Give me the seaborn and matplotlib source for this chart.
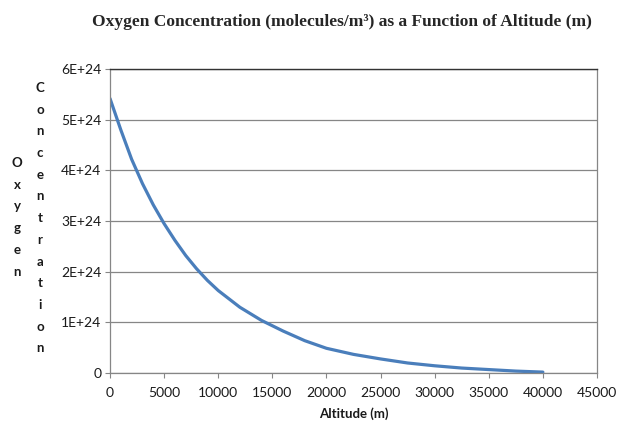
import numpy as np
import pandas as pd
import matplotlib.pyplot as plt
import seaborn as sns
from matplotlib.ticker import FuncFormatter

# values
altitude = [0, 1000, 2000, 3000, 4000, 5000, 6000, 7000, 8000, 9000,
            10000, 12000, 14000, 16000, 18000, 20000, 22500, 25000,
            27500, 30000, 32500, 35000, 37500, 40000]
oxygen_e24 = [5.42, 4.80, 4.22, 3.74, 3.32, 2.95, 2.62, 2.32, 2.06, 1.83,
              1.63, 1.30, 1.04, 0.83, 0.64, 0.49, 0.37, 0.28,
              0.20, 0.145, 0.10, 0.07, 0.04, 0.02]
x_ticks = list(range(0, 45001, 5000))
y_ticks = [0, 1e24, 2e24, 3e24, 4e24, 5e24, 6e24]

df = pd.DataFrame({"Altitude": altitude,
                   "Oxygen": [v * 1e24 for v in oxygen_e24]})

sns.set_style("white")
plt.rcParams["font.family"] = ["Lato", "DejaVu Sans"]

fig = plt.figure(figsize=(6.18, 4.24), dpi=100)
ax = fig.add_axes([0.178, 0.120, 0.788, 0.717])

sns.lineplot(data=df, x="Altitude", y="Oxygen", ax=ax, color="#4a7ebb",
             linewidth=2.3)

ax.set_xlim(0, 45000)
ax.set_ylim(0, 6e24)
ax.set_xticks(x_ticks)
ax.set_yticks(y_ticks)


def sci_fmt(v, pos):
    if v == 0:
        return "0"
    return "%dE+24" % round(v / 1e24)


ax.yaxis.set_major_formatter(FuncFormatter(sci_fmt))
ax.yaxis.grid(True, color="#868686", linewidth=0.9)
ax.set_axisbelow(True)
ax.tick_params(axis="both", direction="out", length=3.6, width=0.8,
               color="#868686", labelsize=10, labelcolor="#1a1a1a",
               bottom=True, left=True)
ax.tick_params(axis="x", pad=6.5)
ax.tick_params(axis="y", pad=2.5)
for s in ["left", "bottom", "right"]:
    ax.spines[s].set_color("#868686")
    ax.spines[s].set_linewidth(0.9)
ax.spines["top"].set_color("#333333")
ax.spines["top"].set_linewidth(1.0)

ax.set_xlabel("Altitude (m)", fontsize=9.5, fontweight="bold", labelpad=6,
              color="#1a1a1a")
ax.set_ylabel("")

fig.text(0.553, 0.948,
         "Oxygen Concentration (molecules/m³) as a Function of Altitude (m)",
         ha="center", va="center", fontsize=12.5, fontweight="bold",
         family="Liberation Serif")

# stacked vertical label, two columns
word1 = "Oxygen"
word2 = "Concentration"
step = 21.7 / 424
for i, ch in enumerate(word1):
    fig.text(17 / 618, 1 - 163 / 424 - i * step, ch, ha="center",
             va="center", fontsize=9.5, fontweight="bold", color="#1a1a1a")
for i, ch in enumerate(word2):
    fig.text(40 / 618, 1 - 88 / 424 - i * step, ch, ha="center",
             va="center", fontsize=9.5, fontweight="bold", color="#1a1a1a")

fig.savefig("out.png", dpi=100)
